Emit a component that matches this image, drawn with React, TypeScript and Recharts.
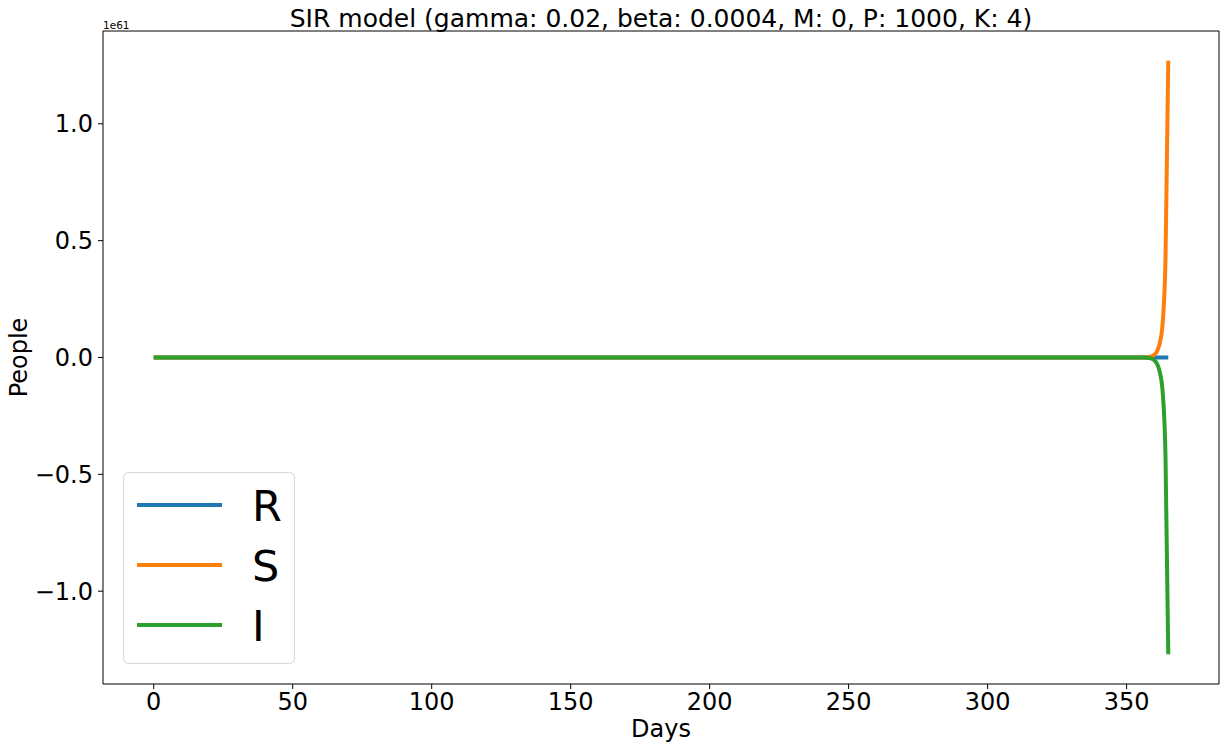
import { LineChart, Line, XAxis, YAxis, ReferenceLine } from "recharts"

// days (x values) at which the curves are sampled
const days = [0, 50, 100, 150, 200, 250, 300, 350, 355, 356, 357, 358, 359, 360, 361, 362, 363, 364, 365]

// values in units of 1e61 people
const recovered = [0, 0, 0, 0, 0, 0, 0, 0, 0, 0, 0, 0, 0, 0, 0, 0, 0, 0, 0]
const susceptible = [0, 0, 0, 0, 0, 0, 0, 0, 0.0001, 0.0003, 0.0008, 0.002, 0.005, 0.012, 0.028, 0.065, 0.15, 0.42, 1.27]
const infected = [0, 0, 0, 0, 0, 0, 0, 0, -0.0001, -0.0003, -0.0008, -0.002, -0.005, -0.012, -0.028, -0.065, -0.15, -0.42, -1.27]

const xTicks = [0, 50, 100, 150, 200, 250, 300, 350]
const yTicks = [-1, -0.5, 0, 0.5, 1]
const xDomain = [-18.25, 383.25]
const yDomain = [-1.397, 1.397]

const seriesNames = ["R", "S", "I"]
const seriesColors = ["#1f77b4", "#ff7f0e", "#2ca02c"]
const seriesKeys = ["R", "S", "I"]

const title = "SIR model (gamma: 0.02, beta: 0.0004, M: 0, P: 1000, K: 4)"

const data = days.map((d, i) => ({
  day: d,
  R: recovered[i],
  S: susceptible[i],
  I: infected[i],
}))

const font = "DejaVu Sans"

const fmtY = (v: number) => v.toFixed(1).replace("-", "\u2212")

function PeopleLabel(props: any) {
  const vb = props.viewBox || { x: 0, y: 0, width: 0, height: 0 }
  const x = vb.x + 14
  const y = vb.y + vb.height / 2
  return (
    <text
      x={x}
      y={y}
      transform={`rotate(-90 ${x} ${y})`}
      textAnchor="middle"
      fontSize={24}
      fontFamily={font}
      fill="#000"
    >
      People
    </text>
  )
}

export default function App() {
  return (
    <div style={{ position: "absolute", left: 0, top: 0, width: 1226, height: 750, background: "#fff" }}>
      <LineChart
        width={1226}
        height={750}
        data={data}
        margin={{ top: 31, right: 7, bottom: 0, left: 13 }}
      >
        <XAxis
          dataKey="day"
          type="number"
          domain={xDomain}
          ticks={xTicks}
          allowDataOverflow
          height={66}
          tickSize={5}
          tickMargin={4}
          stroke="#000"
          tick={{ fill: "#000", fontSize: 24, fontFamily: font }}
          label={{ value: "Days", position: "insideBottom", offset: 13, fill: "#000", fontSize: 24, fontFamily: font }}
        />
        <YAxis
          type="number"
          domain={yDomain}
          ticks={yTicks}
          allowDataOverflow
          width={90}
          tickSize={5}
          tickMargin={5}
          stroke="#000"
          tickFormatter={fmtY}
          tick={{ fill: "#000", fontSize: 24, fontFamily: font }}
          label={<PeopleLabel />}
        />
        {/* top and right spines */}
        <ReferenceLine y={yDomain[1]} stroke="#000" strokeWidth={1} ifOverflow="visible" />
        <ReferenceLine x={xDomain[1]} stroke="#000" strokeWidth={1} ifOverflow="visible" />
        {seriesKeys.map((k, i) => (
          <Line
            key={k}
            dataKey={k}
            name={seriesNames[i]}
            type="monotone"
            stroke={seriesColors[i]}
            strokeWidth={4}
            dot={false}
            activeDot={false}
            isAnimationActive={false}
          />
        ))}
      </LineChart>

      <svg
        width={1226}
        height={750}
        style={{ position: "absolute", left: 0, top: 0, pointerEvents: "none" }}
      >
        <text x={661} y={27} textAnchor="middle" fontSize={25} fontFamily={font} fill="#000">
          {title}
        </text>
        <text x={103} y={29} fontSize={10.5} fontFamily={font} fill="#000">
          1e61
        </text>
        <rect x={123.5} y={472.5} width={171} height={191} rx={5} ry={5} fill="#fff" fillOpacity={0.8} stroke="#d6d6d6" strokeWidth={1} />
        {seriesNames.map((n, i) => (
          <g key={n}>
            <line x1={137} x2={222} y1={505 + i * 60} y2={505 + i * 60} stroke={seriesColors[i]} strokeWidth={4} />
            <text x={252} y={521 + i * 60} fontSize={43} fontFamily={font} fill="#000">
              {n}
            </text>
          </g>
        ))}
      </svg>
    </div>
  )
}
